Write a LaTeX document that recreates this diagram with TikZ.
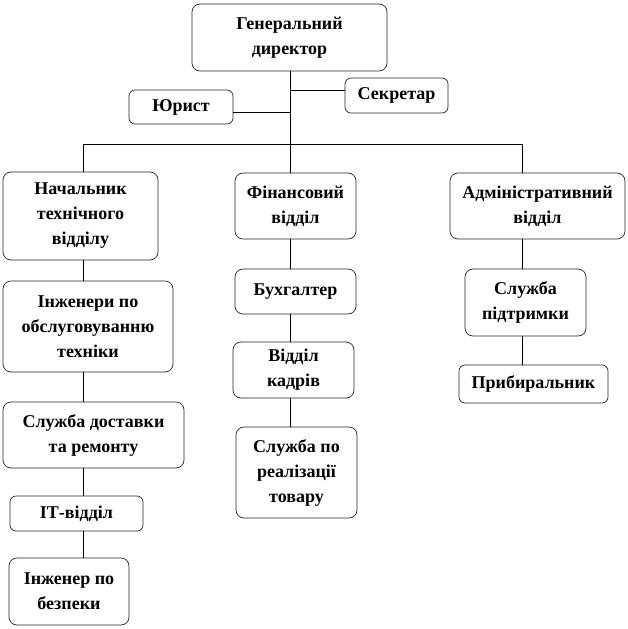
\documentclass[tikz,border=0pt]{standalone}
\usepackage{fontspec}
\setmainfont{Liberation Serif}

\begin{document}
\begin{tikzpicture}[x=1pt,y=-1pt,
    box/.style={draw=black!85, line width=0.7pt, rounded corners=8pt, align=center, inner sep=0pt, font=\bfseries\fontsize{18}{25}\selectfont},
    link/.style={line width=0.7pt}]
    \useasboundingbox (0,0) rectangle (628,629);
    % top
    \node[box, minimum width=195pt, minimum height=67pt] (gd) at (289.5,37.5) {Генеральний\\директор};
    \node[box, rounded corners=6pt, minimum width=103pt, minimum height=35pt] (sekr) at (396.5,95.5) {Секретар};
    \node[box, rounded corners=6pt, minimum width=104pt, minimum height=34pt] (yur) at (181,107) {Юрист};
    % columns
    \node[box, minimum width=155pt, minimum height=88pt] (nach) at (80.5,216) {Начальник\\технічного\\відділу};
    \node[box, minimum width=170pt, minimum height=91pt] (inzh) at (88,326.5) {Інженери по\\обслуговуванню\\техніки};
    \node[box, minimum width=181pt, minimum height=66pt] (dost) at (93.5,435) {Служба доставки\\та ремонту};
    \node[box, rounded corners=6pt, minimum width=133pt, minimum height=35pt] (it) at (76.5,513.5) {ІТ-відділ};
    \node[box, minimum width=120pt, minimum height=67pt] (bezp) at (69,591.5) {Інженер по\\безпеки};
    \node[box, minimum width=121pt, minimum height=66pt] (fin) at (295.5,206) {Фінансовий\\відділ};
    \node[box, minimum width=121pt, minimum height=45pt] (buh) at (295.5,291.5) {Бухгалтер};
    \node[box, minimum width=121pt, minimum height=56pt] (kadr) at (293.5,370) {Відділ\\кадрів};
    \node[box, minimum width=121pt, minimum height=91pt] (real) at (296.5,472.5) {Служба по\\реалізації\\товару};
    \node[box, minimum width=175pt, minimum height=66pt] (adm) at (537.5,206) {Адміністративний\\відділ};
    \node[box, minimum width=121pt, minimum height=67pt] (pidt) at (525.5,302.5) {Служба\\підтримки};
    \node[box, rounded corners=6pt, minimum width=149pt, minimum height=38pt] (prib) at (533.5,384) {Прибиральник};
    % lines
    \coordinate (s1) at (290,90);
    \coordinate (s2) at (290,112);
    \coordinate (bl) at (83,144);
    \coordinate (bm) at (290,144);
    \coordinate (br) at (522,144);
    \draw[link] (gd.south -| bm) -- (bm);
    \draw[link] (s1) -- (s1 -| sekr.west);
    \draw[link] (s2) -- (s2 -| yur.east);
    \draw[link] (bl) -- (br);
    \draw[link] (bl) -- (bl |- nach.north);
    \draw[link] (bm) -- (bm |- fin.north);
    \draw[link] (br) -- (br |- adm.north);
    \draw[link] (nach.south -| bl) -- (inzh.north -| bl);
    \draw[link] (inzh.south -| bl) -- (dost.north -| bl);
    \draw[link] (dost.south -| bl) -- (it.north -| bl);
    \draw[link] (it.south -| bl) -- (bezp.north -| bl);
    \draw[link] (fin.south -| bm) -- (buh.north -| bm);
    \draw[link] (buh.south -| bm) -- (kadr.north -| bm);
    \draw[link] (kadr.south -| bm) -- (real.north -| bm);
    \draw[link] (adm.south -| br) -- (pidt.north -| br);
    \draw[link] (pidt.south -| br) -- (prib.north -| br);
\end{tikzpicture}
\end{document}
